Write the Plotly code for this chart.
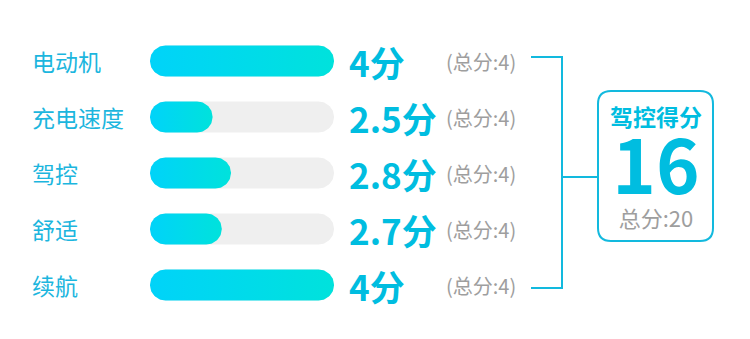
import numpy as np
import plotly.graph_objects as go

# ---- data ----
categories = ["电动机", "充电速度", "驾控", "舒适", "续航"]
scores = [4, 2.5, 2.8, 2.7, 4]
max_scores = [4, 4, 4, 4, 4]
bar_fill_pct = [100, 34, 44, 39, 100]   # displayed fill of each bar (%)
track_pct = [100, 100, 100, 100, 100]
total_title = "驾控得分"
total_score = 16
total_max = 20

W, H = 750, 339
FONT = "Noto Sans CJK SC"
CYAN_TXT = "#1cb6de"
CYAN_NUM = "#00bde0"
GRAD = [[0, "#00d3f9"], [1, "#00e2dc"]]
TRACK_COL = "#efefef"
GRAY = "#9e9e9e"
LINE_COL = "#12b9de"

# axis geometry (pixels)
X_PX0, X_PX1 = 150, 334
Y_PX0, Y_PX1 = 33, 313
X_RANGE = [0, 100]
Y_RANGE = [4.5, -0.5]
BAR_H_PX = 31

px_per_x = (X_PX1 - X_PX0) / (X_RANGE[1] - X_RANGE[0])
px_per_y = (Y_PX1 - Y_PX0) / abs(Y_RANGE[0] - Y_RANGE[1])
r_px = BAR_H_PX / 2
rx = r_px / px_per_x
ry = r_px / px_per_y


def pill(x0, x1, yc):
    """Rounded-end bar outline from x0 to x1 centred on yc (data units)."""
    t = np.linspace(-np.pi / 2, np.pi / 2, 40)
    xr = (x1 - rx) + rx * np.cos(t)
    yr = yc + ry * np.sin(t)
    t2 = np.linspace(np.pi / 2, 3 * np.pi / 2, 40)
    xl = (x0 + rx) + rx * np.cos(t2)
    yl = yc + ry * np.sin(t2)
    xs = np.concatenate([xr, xl, xr[:1]])
    ys = np.concatenate([yr, yl, yr[:1]])
    return xs, ys


ypos = list(range(len(categories)))

fig = go.Figure()
for i in ypos:
    xs, ys = pill(0, track_pct[i], i)
    fig.add_trace(go.Scatter(x=xs, y=ys, mode="lines", fill="toself",
                             fillcolor=TRACK_COL, line=dict(width=0),
                             hoverinfo="skip", showlegend=False))
for i in ypos:
    xs, ys = pill(0, bar_fill_pct[i], i)
    fig.add_trace(go.Scatter(x=xs, y=ys, mode="lines", fill="toself",
                             fillgradient=dict(type="horizontal", colorscale=GRAD),
                             line=dict(width=0),
                             hoverinfo="skip", showlegend=False))

annotations = []
for i, (c, s, m) in enumerate(zip(categories, scores, max_scores)):
    annotations.append(dict(
        x=30 / W, y=i, xref="paper", yref="y", xanchor="left", yanchor="middle",
        text=c, showarrow=False, font=dict(family=FONT, size=23, color=CYAN_TXT)))
    annotations.append(dict(
        x=347 / W, y=i, xref="paper", yref="y", xanchor="left", yanchor="middle",
        text=f"{s:g}分", showarrow=False,
        font=dict(family=FONT, size=35, color=CYAN_NUM, weight="bold")))
    annotations.append(dict(
        x=444 / W, y=i, xref="paper", yref="y", xanchor="left", yanchor="middle",
        text=f"(总分:{m:g})", showarrow=False,
        font=dict(family=FONT, size=20, color=GRAY)))

# summary box text: one multi-line text block (line pitch 1.3 x 26px)
cx = 655.5 / W
box_text = (
    f"<b><span style='font-size:23px'>{total_title}</span></b>"
    "<br> <br>"
    f"<b><span style='font-size:74px'>{total_score}</span></b>"
    f"<br><span style='font-size:22px;color:{GRAY}'>总分:{total_max}</span>"
)
annotations.append(dict(
    x=cx, y=1 - 166 / H, xref="paper", yref="paper", xanchor="center", yanchor="middle",
    align="center", text=box_text, showarrow=False,
    font=dict(family=FONT, size=26, color=CYAN_NUM)))


def px(x):
    return x / W


def py(y):
    return 1 - y / H


shapes = [
    dict(type="line", xref="paper", yref="paper", x0=px(531), x1=px(562), y0=py(57), y1=py(57),
         line=dict(color=LINE_COL, width=2)),
    dict(type="line", xref="paper", yref="paper", x0=px(531), x1=px(562), y0=py(288), y1=py(288),
         line=dict(color=LINE_COL, width=2)),
    dict(type="line", xref="paper", yref="paper", x0=px(562), x1=px(562), y0=py(56), y1=py(289),
         line=dict(color=LINE_COL, width=2)),
    dict(type="line", xref="paper", yref="paper", x0=px(562), x1=px(598), y0=py(177), y1=py(177),
         line=dict(color=LINE_COL, width=2)),
]
x0, x1, y0, y1, r = 598, 713, 91, 241, 13
path = (f"M {px(x0+r)},{py(y0)} L {px(x1-r)},{py(y0)} Q {px(x1)},{py(y0)} {px(x1)},{py(y0+r)} "
        f"L {px(x1)},{py(y1-r)} Q {px(x1)},{py(y1)} {px(x1-r)},{py(y1)} "
        f"L {px(x0+r)},{py(y1)} Q {px(x0)},{py(y1)} {px(x0)},{py(y1-r)} "
        f"L {px(x0)},{py(y0+r)} Q {px(x0)},{py(y0)} {px(x0+r)},{py(y0)} Z")
shapes.append(dict(type="path", xref="paper", yref="paper", path=path,
                   line=dict(color=LINE_COL, width=2), fillcolor="rgba(0,0,0,0)"))

fig.update_layout(
    width=W, height=H, margin=dict(l=0, r=0, t=0, b=0),
    paper_bgcolor="white", plot_bgcolor="white",
    xaxis=dict(domain=[X_PX0 / W, X_PX1 / W], range=X_RANGE, visible=False, fixedrange=True),
    yaxis=dict(domain=[(H - Y_PX1) / H, (H - Y_PX0) / H], range=Y_RANGE, visible=False,
               fixedrange=True),
    annotations=annotations, shapes=shapes, showlegend=False,
)

fig.write_html("out.html", config={"displayModeBar": False})
